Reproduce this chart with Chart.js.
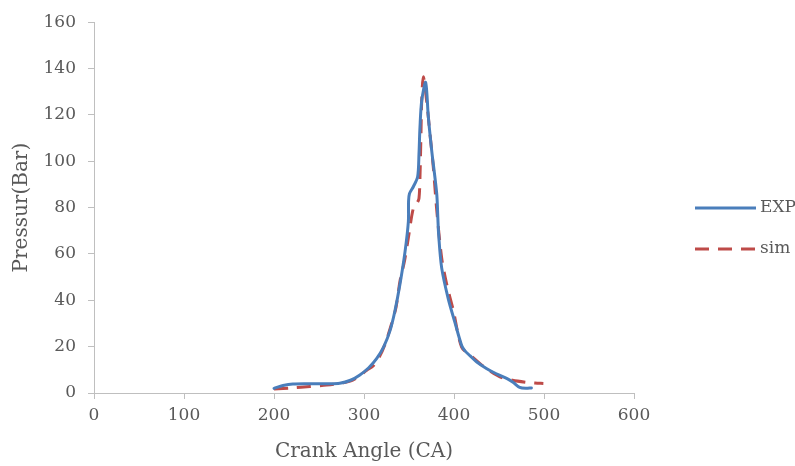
<!DOCTYPE html>
<html><head><meta charset="utf-8">
<script src="https://cdn.jsdelivr.net/npm/chart.js@4/dist/chart.umd.min.js"></script>
<style>html,body{margin:0;padding:0;background:#fff;}#wrap{width:795px;height:466px;position:relative;}</style>
</head><body>
<div id="wrap"><canvas id="c" width="795" height="466"></canvas></div>
<script>
const expAngle = [200,210,221,240,260,273,285,295,305,314,322,329,334.4,340,345.6,349.3,349.5,350.5,354.8,359.6,361.1,362.2,364.1,368.5,371.5,375.2,380.8,382,383,386.3,393.7,401,408.5,412,418,425,436,447,458.5,466,473,480,486];
const expPressure = [2.0,3.2,3.9,4.0,4.0,4.2,5.5,7.7,10.8,14.8,20,27,35.5,47,61,74,82.6,86,89,93.3,103.2,114.7,126,134,119,104.7,86,76,68,54,40.5,30.5,20.5,18.3,16,13.5,10.6,8.3,6.3,4.5,2.4,2.0,2.2];
const simAngle = [200,220,240,258.5,275,288,303,310.4,317,323.3,330,335.6,340,345,349.3,354.8,359,361.1,362.2,363.3,364.1,365.9,369.6,373.3,377,380.8,386.3,391.9,399.3,408.5,419,428.9,440,451,465,480.8,490,499.3];
const simPressure = [1.7,2.2,2.8,3.4,4.3,5.6,9.8,11.8,15.5,21,29,37,48.3,57,67,79.7,82,84,93.3,111.8,126,136.5,126,111.8,97.5,79,58.3,46.9,35.5,19.8,16,12.7,9.5,7,5.5,4.6,4.3,4.1];
const seriesNames = ['EXP','sim'];
const xTitle = 'Crank Angle (CA)';
const yTitle = 'Pressur(Bar)';

const toPts = (xs, ys) => xs.map((x,i)=>({x:x,y:ys[i]}));
const FONT = "'DejaVu Serif', serif";
const TXT = '#595959';
const BLUE = '#4A7EBB';
const RED = '#BE4B48';

const legendPlugin = {
  id:'customLegend',
  afterDraw(chart){
    const ctx = chart.ctx;
    ctx.save();
    const items = [
      {name:seriesNames[0], color:BLUE, dash:[], y:208},
      {name:seriesNames[1], color:RED, dash:[14,9], y:249}
    ];
    items.forEach(it=>{
      ctx.beginPath();
      ctx.setLineDash(it.dash);
      ctx.lineWidth = 3;
      ctx.strokeStyle = it.color;
      ctx.lineCap = 'butt';
      ctx.moveTo(695, it.y); ctx.lineTo(756, it.y);
      ctx.stroke();
      ctx.setLineDash([]);
      ctx.fillStyle = TXT;
      ctx.font = "17px " + FONT;
      ctx.textBaseline = 'middle';
      ctx.textAlign = 'left';
      ctx.fillText(it.name, 760, it.y);
    });
    ctx.restore();
  }
};

new Chart(document.getElementById('c'), {
  type:'scatter',
  data:{datasets:[
    {label:seriesNames[0], data:toPts(expAngle, expPressure), showLine:true, borderColor:BLUE, backgroundColor:BLUE, borderWidth:3, pointRadius:0, tension:0.3, borderCapStyle:'round', borderJoinStyle:'round'},
    {label:seriesNames[1], data:toPts(simAngle, simPressure), showLine:true, borderColor:RED, backgroundColor:RED, borderWidth:3, pointRadius:0, borderDash:[14,9], tension:0.3}
  ]},
  options:{
    responsive:false, animation:false, devicePixelRatio:1,
    layout:{padding:{left:0, top:19, right:161, bottom:0}},
    plugins:{legend:{display:false}, tooltip:{enabled:false}},
    scales:{
      x:{type:'linear', min:0, max:600,
        ticks:{stepSize:100, color:TXT, font:{family:FONT, size:17}, padding:6, maxRotation:0},
        grid:{drawOnChartArea:false, drawTicks:true, tickLength:6, color:'#BFBFBF'},
        border:{color:'#BFBFBF', width:1},
        title:{display:true, text:xTitle, color:TXT, font:{family:FONT, size:20}, padding:{top:0,bottom:2}},
        afterFit(s){ s.height = 73; }
      },
      y:{type:'linear', min:0, max:160,
        ticks:{stepSize:20, color:TXT, font:{family:FONT, size:17}, padding:12},
        grid:{drawOnChartArea:false, drawTicks:true, tickLength:6, color:'#BFBFBF'},
        border:{color:'#BFBFBF', width:1},
        title:{display:true, text:yTitle, color:TXT, font:{family:FONT, size:20}, padding:{top:10,bottom:0}},
        afterFit(s){ s.width = 94; }
      }
    }
  },
  plugins:[legendPlugin]
});
</script>
</body></html>
